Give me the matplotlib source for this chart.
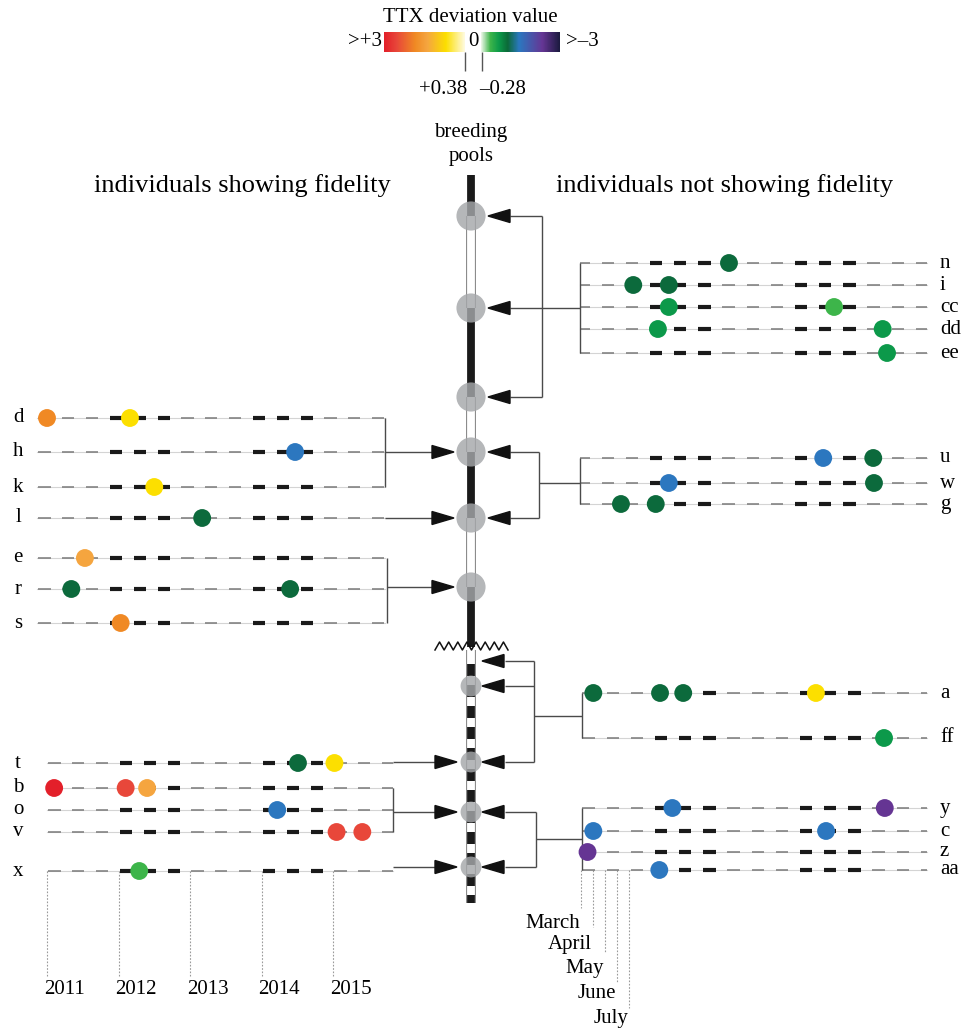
import numpy as np
import matplotlib.pyplot as plt
from matplotlib.colors import LinearSegmentedColormap, Normalize
from matplotlib.patches import Polygon

plt.rcParams['font.family'] = ['Liberation Serif', 'DejaVu Serif']

# ---- data -------------------------------------------------------------
# capture time in years since March 2011 (one unit = one March-August season)
# and the TTX deviation value of each capture
left_top_ids = ['d', 'h', 'k', 'l', 'e', 'r', 's']
left_top_times = [[0.14, 1.30], [3.61], [1.64], [2.31], [0.67], [0.48, 3.54], [1.17]]
left_top_ttx = [[2.0, 1.0], [-1.6], [1.0], [-1.2], [1.6], [-1.2, -1.2], [2.0]]

left_bot_ids = ['t', 'b', 'o', 'v', 'x']
left_bot_times = [[3.51, 4.02], [0.10, 1.10, 1.40], [3.22], [4.05, 4.41], [1.29]]
left_bot_ttx = [[-1.2, 1.0], [3.0, 2.6, 1.6], [-1.6], [2.6, 2.6], [-0.6]]

right_top_ids = ['n', 'i', 'cc', 'dd', 'ee', 'u', 'w', 'g']
right_top_times = [[2.11], [0.79, 1.28], [1.28, 3.56], [1.13, 4.23], [4.29],
                   [3.41, 4.10], [1.28, 4.11], [0.62, 1.10]]
right_top_ttx = [[-1.2], [-1.2, -1.2], [-0.9, -0.6], [-0.9, -0.9], [-0.9],
                 [-1.6, -1.2], [-1.6, -1.2], [-1.2, -1.2]]

right_bot_ids = ['a', 'ff', 'y', 'c', 'z', 'aa']
right_bot_times = [[0.17, 1.09, 1.41, 3.24], [4.18], [1.26, 4.19], [0.17, 3.38], [0.09], [1.08]]
right_bot_ttx = [[-1.2, -1.2, -1.2, 1.0], [-0.9], [-1.6, -2.4], [-1.6, -1.6], [-2.4], [-1.6]]

years = ['2011', '2012', '2013', '2014', '2015']
months = ['March', 'April', 'May', 'June', 'July']

# ---- layout (figure pixels) ------------------------------------------
row_y = {'d': 418, 'h': 452, 'k': 487, 'l': 518, 'e': 558, 'r': 589, 's': 623,
         't': 763, 'b': 788, 'o': 810, 'v': 832, 'x': 871,
         'n': 263, 'i': 285, 'cc': 307, 'dd': 329, 'ee': 353,
         'u': 458, 'w': 483, 'g': 504,
         'a': 693, 'ff': 738, 'y': 808, 'c': 831, 'z': 852, 'aa': 870}
pool_x = 471
pools_top = [216, 308, 397, 452, 518, 587]
pools_bot = [686, 762, 812, 867]
col_kind = ['black', 'white', 'black', 'white', 'black', 'white', 'black']

colors_ttx = [(-3.0, '#1c1a40'), (-2.4, '#663695'), (-1.6, '#2b78c0'), (-1.2, '#0b6a38'),
              (-0.9, '#0c9a4a'), (-0.6, '#3db54a'), (-0.28, '#eef7ea'), (0.0, '#ffffff'),
              (0.38, '#fffbe2'), (1.0, '#fcdf00'), (1.6, '#f5a640'), (2.0, '#f08a24'),
              (2.6, '#e8473a'), (3.0, '#e3202a')]
cmap = LinearSegmentedColormap.from_list('ttx', [((v + 3) / 6, c) for v, c in colors_ttx])
norm = Normalize(-3, 3)

fig = plt.figure(figsize=(9.65, 10.3), dpi=100)
ax = fig.add_axes([0, 0, 1, 1])

CON = '#4a4a4a'


def line(xs, ys, **kw):
    kw.setdefault('color', CON)
    kw.setdefault('lw', 1.0)
    ax.plot(xs, ys, solid_capstyle='butt', **kw)


def arrow(tip, y, direction):
    # direction +1: pointing right, -1: pointing left
    base = tip - direction * 22
    ax.add_patch(Polygon([(tip, y), (base, y - 6.5), (base, y + 6.5)],
                         closed=True, color='#111111', zorder=6))


def draw_rows(ids, times, ttx, origin, unit, t0, t1):
    for rid, ts, vs in zip(ids, times, ttx):
        y = row_y[rid]
        ax.plot([origin + unit * t0, origin + unit * t1], [y, y], color='#d4d4d4', lw=0.8, zorder=1)
        for k in range(5):
            for j in range(3):
                a = max(k + j / 3 + 0.02, t0)
                b = min(k + j / 3 + 0.19, t1)
                if b <= a:
                    continue
                if k % 2:
                    ax.plot([origin + unit * a, origin + unit * b], [y, y], color='#1a1a1a',
                            lw=3.0, solid_capstyle='butt', zorder=2)
                else:
                    ax.plot([origin + unit * a, origin + unit * b], [y, y], color='#7a7a7a',
                            lw=1.1, solid_capstyle='butt', zorder=2)
        ax.scatter(origin + unit * np.array(ts), [y] * len(ts), s=165,
                   c=cmap(norm(np.array(vs))), edgecolors='none', zorder=4)


draw_rows(left_top_ids, left_top_times, left_top_ttx, 37, 71.5, 0.0, 4.87)
draw_rows(left_bot_ids, left_bot_times, left_bot_ttx, 47, 71.5, 0.0, 4.84)
draw_rows(right_top_ids, right_top_times, right_top_ttx, 576, 72.5, 0.055, 4.84)
draw_rows(right_bot_ids, right_bot_times, right_bot_ttx, 581, 72.5, 0.014, 4.77)

for rid in left_top_ids + left_bot_ids:
    ax.text(18, row_y[rid], rid, ha='center', va='center', fontsize=15)
for rid in right_top_ids + right_bot_ids:
    ax.text(940, row_y[rid], rid, ha='left', va='center', fontsize=15)

# ---- breeding pool column -------------------------------------------
ends = [175] + pools_top + [647]
for y0, y1, kind in zip(ends[:-1], ends[1:], col_kind):
    if kind == 'black':
        line([pool_x, pool_x], [y0, y1], color='#1a1a1a', lw=5.6, zorder=3)
    else:
        line([pool_x, pool_x], [y0, y1], color='#8c8c8c', lw=7.2, zorder=3)
        line([pool_x, pool_x], [y0, y1], color='white', lw=5.6, zorder=3)
line([pool_x, pool_x], [650, 903], color='#8c8c8c', lw=7.2, zorder=3)
line([pool_x, pool_x], [650, 903], color='white', lw=5.6, zorder=3)
for yy in np.arange(664, 903, 21):
    line([pool_x, pool_x], [yy, min(yy + 12, 903)], color='#1a1a1a', lw=5.6, zorder=3)
zx = np.linspace(435, 508, 17)
ax.plot(zx, 646 + 4 * (-1) ** np.arange(17), color='#111111', lw=1.1, zorder=4)

ax.scatter([pool_x] * len(pools_top), pools_top, s=440, color='#a5a7aa', alpha=0.82,
           edgecolors='none', zorder=5)
ax.scatter([pool_x] * len(pools_bot), pools_bot, s=225, color='#a5a7aa', alpha=0.82,
           edgecolors='none', zorder=5)

# ---- connectors and arrows ------------------------------------------
# right, upper site
line([580, 580], [row_y['n'], row_y['ee']])
line([510, 580], [pools_top[1]] * 2)
line([542, 542], [pools_top[0], pools_top[2]])
for p in (0, 2):
    line([510, 542], [pools_top[p]] * 2)
for p in (0, 1, 2):
    arrow(488, pools_top[p], -1)
line([580, 580], [row_y['u'], row_y['g']])
line([539, 580], [row_y['w']] * 2)
line([539, 539], [pools_top[3], pools_top[4]])
for p in (3, 4):
    line([510, 539], [pools_top[p]] * 2)
    arrow(488, pools_top[p], -1)
# left, upper site
line([385, 385], [row_y['d'], row_y['k']])
line([385, 432], [pools_top[3]] * 2)
line([385, 432], [pools_top[4]] * 2)
line([387, 387], [row_y['e'], row_y['s']])
line([387, 432], [pools_top[5]] * 2)
for p in (3, 4, 5):
    arrow(454, pools_top[p], 1)
# right, lower site
line([582, 582], [row_y['a'], row_y['ff']])
line([534, 582], [716, 716])
line([534, 534], [661, pools_bot[1]])
for yy in (661, pools_bot[0], pools_bot[1]):
    line([505, 534], [yy, yy])
    arrow(482, yy, -1)
line([582, 582], [row_y['y'], row_y['aa']])
line([536, 582], [839, 839])
line([536, 536], [pools_bot[2], pools_bot[3]])
for p in (2, 3):
    line([505, 536], [pools_bot[p]] * 2)
    arrow(482, pools_bot[p], -1)
# left, lower site
line([393, 393], [row_y['b'], row_y['v']])
for p in (1, 2, 3):
    line([393, 435], [pools_bot[p]] * 2)
    arrow(457, pools_bot[p], 1)

# ---- time axes ------------------------------------------------------
for k, lab in enumerate(years):
    xk = 47 + 71.5 * k
    ax.plot([xk, xk], [row_y['x'], 977], color='#9a9a9a', lw=0.8, ls=(0, (1.5, 1.5)), zorder=1)
    ax.text(xk - 3, 990, lab, ha='left', va='center', fontsize=15)
month_end = [908, 927, 953, 982, 1008]
month_lab = [923, 945, 968, 993, 1018]
for m, lab in enumerate(months):
    xm = 581 + 72.5 * m / 6
    ax.plot([xm, xm], [row_y['aa'], month_end[m]], color='#9a9a9a', lw=0.8,
            ls=(0, (1.5, 1.5)), zorder=1)
    ax.text(xm - 1, month_lab[m], lab, ha='right', va='center', fontsize=15)

# ---- headings -------------------------------------------------------
ax.text(pool_x, 132, 'breeding', ha='center', va='center', fontsize=15)
ax.text(pool_x, 156, 'pools', ha='center', va='center', fontsize=15)
ax.text(242, 186, 'individuals showing fidelity', ha='center', va='center', fontsize=19)
ax.text(725, 186, 'individuals not showing fidelity', ha='center', va='center', fontsize=19)

# ---- TTX colour legend ----------------------------------------------
grad_pos = np.linspace(3, 0.38, 256)
grad_neg = np.linspace(-0.28, -3, 256)
ax.imshow(cmap(norm(grad_pos))[None, :, :], extent=(384, 465, 52, 32), aspect='auto', zorder=2)
ax.imshow(cmap(norm(grad_neg))[None, :, :], extent=(481, 560, 52, 32), aspect='auto', zorder=2)
ax.text(470, 17, 'TTX deviation value', ha='center', va='center', fontsize=15)
ax.text(365, 42, '>+3', ha='center', va='center', fontsize=15)
ax.text(473, 42, '0', ha='center', va='center', fontsize=15)
ax.text(566, 42, '>\u20133', ha='left', va='center', fontsize=15)
line([465, 465], [52, 71], color='#555555', lw=1.0)
line([482, 482], [52, 71], color='#555555', lw=1.0)
ax.text(443, 89, '+0.38', ha='center', va='center', fontsize=15)
ax.text(503, 89, '\u20130.28', ha='center', va='center', fontsize=15)

ax.set_xlim(0, 965)
ax.set_ylim(1030, 0)
ax.axis('off')
fig.savefig('out.png', dpi=100)
